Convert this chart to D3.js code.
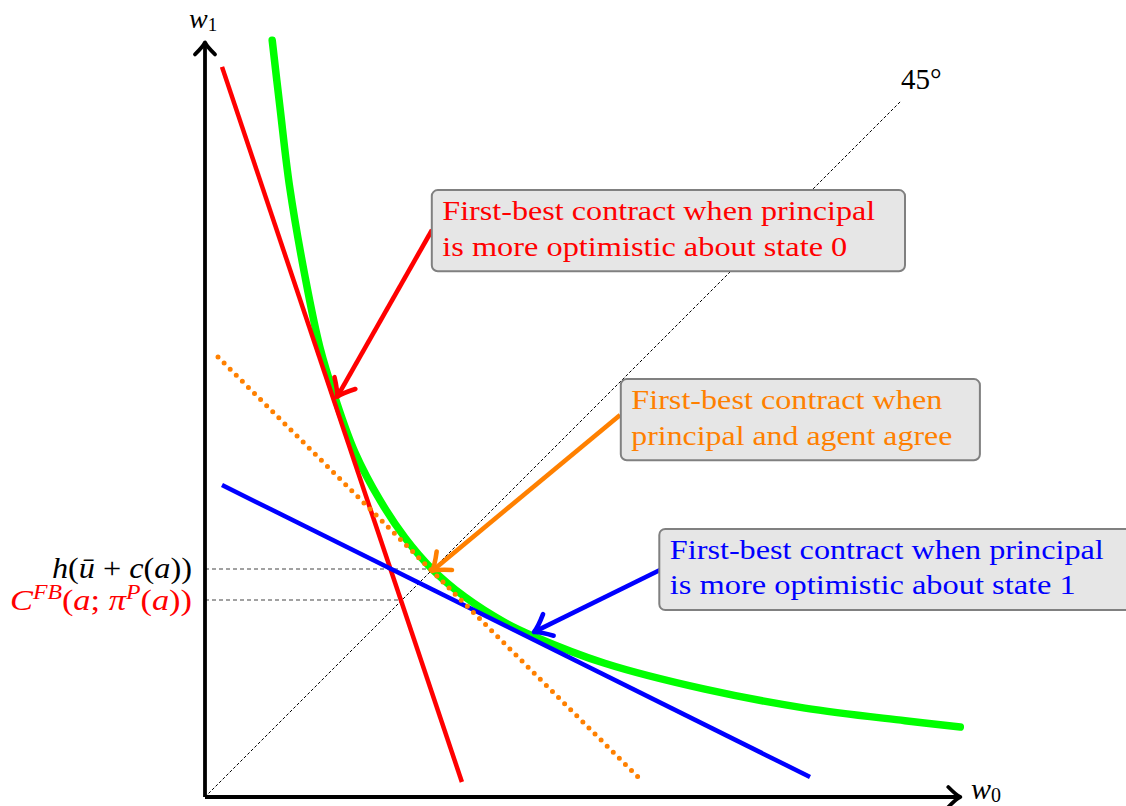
<!DOCTYPE html>
<html><head><meta charset="utf-8">
<script src="https://cdn.jsdelivr.net/npm/d3@7"></script>
<style>body{margin:0;background:#fff}svg{display:block}</style>
</head><body>
<svg id="c" width="1126" height="806"></svg>
<script>
// ---- data (in diagram units) ----
const indifferenceCurve = [[0.96,10.81],[1.07,9.86],[1.21,8.71],[1.43,7.43],[1.64,6.43],[1.86,5.70],[2.14,4.93],[2.50,4.24],[2.86,3.70],[3.24,3.26],[3.71,2.86],[4.29,2.49],[4.71,2.29],[5.71,1.91],[7.14,1.54],[8.57,1.27],[10.0,1.09],[10.79,1.00]];
const redLine = [[0.243,10.43],[3.67,0.214]];
const blueLine = [[0.243,4.457],[8.643,0.286]];
const orangeLine = [[0.186,6.286],[6.257,0.214]];
const diagonal = [[0,0],[9.93,9.93]];
const levelAgree = 3.257, pointAgreeX = 3.243;
const levelOpt0 = 2.814, pointOpt0X = 2.757;
const arrows = [
  {from:[3.243,8.10], to:[1.886,5.714], color:"#ff0000"},
  {from:[5.93,5.457], to:[3.243,3.229], color:"#ff8000"},
  {from:[6.5,3.243], to:[4.7,2.357], color:"#0000ff"}
];
const boxes = [
  {x:3.24, y:8.67, w:6.76, h:1.16, color:"#ff0000", lines:["First-best contract when principal","is more optimistic about state 0"], lens:[433,405]},
  {x:5.94, y:5.97, w:5.13, h:1.16, color:"#ff8000", lines:["First-best contract when","principal and agent agree"], lens:[311,321]},
  {x:6.49, y:3.83, w:7.0, h:1.16, color:"#0000ff", lines:["First-best contract when principal","is more optimistic about state 1"], lens:[434,406]}
];

const svg = d3.select("#c");
const x = d3.scaleLinear().domain([0,10.8]).range([205,961]);
const y = d3.scaleLinear().domain([0,10.8]).range([797,41]);
const line = d3.line().x(d=>x(d[0])).y(d=>y(d[1]));
const serif = "'Liberation Serif', 'DejaVu Serif', serif";

// 45 degree line
svg.append("path").attr("d", line(diagonal)).attr("stroke","#000").attr("stroke-width",1)
  .attr("stroke-dasharray","3 2").attr("fill","none");
// horizontal dashed guides
svg.append("path").attr("d", line([[0,levelAgree],[pointAgreeX,levelAgree]])).attr("stroke","#444").attr("stroke-width",1.2).attr("stroke-dasharray","4 3").attr("fill","none");
svg.append("path").attr("d", line([[0,levelOpt0],[pointOpt0X,levelOpt0]])).attr("stroke","#444").attr("stroke-width",1.2).attr("stroke-dasharray","4 3").attr("fill","none");

// curves and lines
svg.append("path").attr("d", d3.line().x(d=>x(d[0])).y(d=>y(d[1])).curve(d3.curveCatmullRom)(indifferenceCurve))
  .attr("stroke","#00ff00").attr("stroke-width",7.5).attr("fill","none").attr("stroke-linecap","round");
svg.append("path").attr("d", line(redLine)).attr("stroke","#ff0000").attr("stroke-width",4.5).attr("fill","none");
svg.append("path").attr("d", line(blueLine)).attr("stroke","#0000ff").attr("stroke-width",4.5).attr("fill","none");
svg.append("path").attr("d", line(orangeLine)).attr("stroke","#ff8000").attr("stroke-width",5).attr("fill","none")
  .attr("stroke-dasharray","0 8.6").attr("stroke-linecap","round");

function head(tip, dir, L, W){
  const n=[-dir[1],dir[0]];
  return `M${tip[0]-L*dir[0]+W*n[0]},${tip[1]-L*dir[1]+W*n[1]} Q${tip[0]-L*0.35*dir[0]+W*0.2*n[0]},${tip[1]-L*0.35*dir[1]+W*0.2*n[1]} ${tip[0]},${tip[1]} Q${tip[0]-L*0.35*dir[0]-W*0.2*n[0]},${tip[1]-L*0.35*dir[1]-W*0.2*n[1]} ${tip[0]-L*dir[0]-W*n[0]},${tip[1]-L*dir[1]-W*n[1]}`;
}
// axes
const ax = [[0,0],[10.79,0]], ay=[[0,0],[0,10.78]];
svg.append("path").attr("d", line(ax)).attr("stroke","#000").attr("stroke-width",3.8).attr("fill","none");
svg.append("path").attr("d", line(ay)).attr("stroke","#000").attr("stroke-width",3.8).attr("fill","none");
svg.append("path").attr("d", head([x(10.79),y(0)],[1,0],12,10)).attr("stroke","#000").attr("stroke-width",3.8).attr("fill","none").attr("stroke-linecap","round").attr("stroke-linejoin","round");
svg.append("path").attr("d", head([x(0),y(10.78)],[0,-1],12,10)).attr("stroke","#000").attr("stroke-width",3.8).attr("fill","none").attr("stroke-linecap","round").attr("stroke-linejoin","round");

// annotation arrows
arrows.forEach(a=>{
  const p0=[x(a.from[0]),y(a.from[1])], p1=[x(a.to[0]),y(a.to[1])];
  const dx=p1[0]-p0[0], dy=p1[1]-p0[1], l=Math.hypot(dx,dy), d=[dx/l,dy/l];
  svg.append("path").attr("d",`M${p0[0]},${p0[1]}L${p1[0]-2*d[0]},${p1[1]-2*d[1]}`).attr("stroke",a.color).attr("stroke-width",4.6).attr("fill","none");
  svg.append("path").attr("d",head(p1,d,16,12)).attr("stroke",a.color).attr("stroke-width",4.6).attr("fill","none").attr("stroke-linecap","round").attr("stroke-linejoin","round");
});

// boxes
boxes.forEach(b=>{
  const bx=x(b.x), by=y(b.y), bw=x(b.w)-x(0), bh=y(0)-y(b.h);
  svg.append("rect").attr("x",bx).attr("y",by).attr("width",bw).attr("height",bh).attr("rx",6)
    .attr("fill","#e6e6e6").attr("stroke","#808080").attr("stroke-width",2);
  b.lines.forEach((t,i)=>{
    svg.append("text").attr("x",bx+10.5).attr("y",by+30+i*35.5).attr("fill",b.color)
      .attr("font-family",serif).attr("font-size",28).attr("textLength",b.lens[i]).attr("lengthAdjust","spacingAndGlyphs").text(t);
  });
});

// axis labels
const wl = svg.append("text").attr("x",189).attr("y",28).attr("font-family",serif).attr("font-size",28).attr("fill","#000");
wl.append("tspan").attr("font-style","italic").text("w");
wl.append("tspan").attr("font-size",19).attr("dy",3).text("1");
const w0 = svg.append("text").attr("x",971).attr("y",799).attr("font-family",serif).attr("font-size",30).attr("fill","#000");
w0.append("tspan").attr("font-style","italic").text("w");
w0.append("tspan").attr("font-size",20).attr("dy",3).text("0");
svg.append("text").attr("x",901).attr("y",89).attr("font-family",serif).attr("font-size",29).attr("fill","#000").text("45°");

// y-axis level labels
const h = svg.append("text").attr("x",192).attr("y",y(levelAgree)+9).attr("text-anchor","end").attr("font-family",serif).attr("font-size",29).attr("fill","#000").attr("textLength",140).attr("lengthAdjust","spacingAndGlyphs");
h.append("tspan").attr("font-style","italic").text("h");
h.append("tspan").text("(");
h.append("tspan").attr("font-style","italic").text("ū");
h.append("tspan").text(" + ");
h.append("tspan").attr("font-style","italic").text("c");
h.append("tspan").text("(");
h.append("tspan").attr("font-style","italic").text("a");
h.append("tspan").text("))");

const cf = svg.append("text").attr("x",192).attr("y",y(levelOpt0)+10).attr("text-anchor","end").attr("font-family",serif).attr("font-size",29).attr("fill","#ff0000").attr("textLength",182).attr("lengthAdjust","spacingAndGlyphs");
cf.append("tspan").attr("font-style","italic").text("C");
cf.append("tspan").attr("font-style","italic").attr("font-size",20).attr("dy",-11).text("FB");
cf.append("tspan").attr("dy",11).text("(");
cf.append("tspan").attr("font-style","italic").text("a");
cf.append("tspan").text("; ");
cf.append("tspan").attr("font-style","italic").text("π");
cf.append("tspan").attr("font-style","italic").attr("font-size",20).attr("dy",-11).text("P");
cf.append("tspan").attr("dy",11).text("(");
cf.append("tspan").attr("font-style","italic").text("a");
cf.append("tspan").text("))");
</script>
</body></html>
